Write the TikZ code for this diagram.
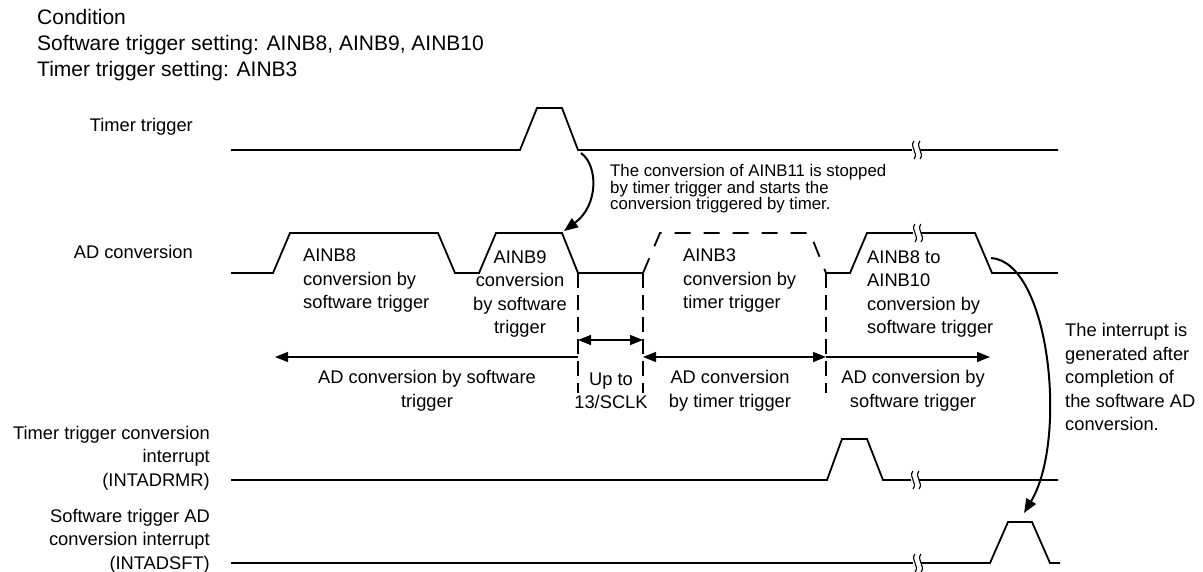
\documentclass[tikz,border=0pt]{standalone}
\usepackage{fontspec}
\setmainfont{Liberation Sans}
\usetikzlibrary{positioning, arrows.meta}

\begin{document}
\begin{tikzpicture}[
        x=1pt, y=-1pt,
        >={Triangle[length=13pt,width=10pt]},
        sig/.style={line width=1.8pt, line join=miter},
        guide/.style={line width=1.4pt, dash pattern=on 15pt off 7pt},
        dim/.style={line width=1.4pt},
        curvearrow/.style={line width=2pt, -{Triangle[length=14pt,width=11pt]}},
        lbl/.style={inner sep=0pt, font=\fontsize{18.3}{23.5}\selectfont},
        note/.style={inner sep=0pt, align=left, font=\fontsize{16.8}{16.6}\selectfont},
        brk/.pic={
          \fill[white] (-4,-9) rectangle (4,9);
          \draw[line width=1.1pt] (-2,-9) .. controls (-7,-3) and (3,3) .. (-2,9);
          \draw[line width=1.1pt] (4,-9) .. controls (-1,-3) and (9,3) .. (4,9);
        }
      ]
        \useasboundingbox (0,0) rectangle (1203,571);

        \node[inner sep=0pt, align=left, anchor=north west, font=\fontsize{21}{26}\selectfont] (cond) at (37,9)
          {Condition\\Software trigger setting: AINB8, AINB9, AINB10\\Timer trigger setting: AINB3};

        \node[lbl, anchor=east] (tmlbl) at (193,127) {Timer trigger};
        \node[lbl, anchor=east] (adlbl) at (193,252) {AD conversion};
        \node[lbl, align=right, anchor=east] (rmrlbl) at (210,458)
          {Timer trigger conversion\\interrupt\\(INTADRMR)};
        \node[lbl, align=right, anchor=east] (sftlbl) at (210,541)
          {Software trigger AD\\conversion interrupt\\(INTADSFT)};

        % timer trigger
        \draw[sig] (231,150) -- (520,150) -- (537,108) -- (562,108) -- (578,150) -- (1058,150);
        \pic at (916,150) {brk};

        % AD conversion
        \draw[sig] (231,273) -- (273,273) -- (290,233) -- (438,233) -- (455,273) -- (479,273)
          -- (496,233) -- (562,233) -- (578,273) -- (643,273);
        \draw[sig, dash pattern=on 16pt off 13pt] (643,273) -- (660,233) -- (810,233) -- (826,273);
        \draw[sig] (826,273) -- (850,273) -- (867,233) -- (975,233) -- (992,273) -- (1058,273);
        \pic at (917,233) {brk};

        % interrupts
        \draw[sig] (231,480) -- (827,480) -- (842,439) -- (867,439) -- (883,480) -- (1058,480);
        \pic at (915,480) {brk};
        \draw[sig] (231,563) -- (990,563) -- (1008,522) -- (1032,522) -- (1050,563) -- (1060,563);
        \pic at (917,563) {brk};

        \coordinate (t0) at (578,273);
        \coordinate (t1) at (643,273);
        \coordinate (t2) at (826,273);
        \draw[guide] (t0) -- ++(0,120);
        \draw[guide] (t1) -- ++(0,120);
        \draw[guide] (t2) -- ++(0,120);

        \coordinate (swend) at (275,357);
        \coordinate (swout) at (990,357);
        \draw[dim, <->] (t0 |- 0,340) -- (t1 |- 0,340);
        \draw[dim, ->] (t0 |- swend) -- (swend);
        \draw[dim, <->] (t1 |- swend) -- (t2 |- swend);
        \draw[dim, ->] (t2 |- swout) -- (swout);

        \node[lbl, align=left, anchor=west] (ain8) at (303,281) {AINB8\\conversion by\\software trigger};
        \node[lbl, align=center] (ain9) at (520,294) {AINB9\\conversion\\by software\\trigger};
        \node[lbl, align=left, anchor=west] (ain3) at (683,281) {AINB3\\conversion by\\timer trigger};
        \node[lbl, align=left, anchor=west] (ain10) at (867,294) {AINB8 to\\AINB10\\conversion by\\software trigger};

        \node[lbl, align=center] (swconv) at (427,391) {AD conversion by software\\trigger};
        \node[lbl, align=center] (wait) at (611,391) {Up to\\13/SCLK};
        \node[lbl, align=center] (tmconv) at (730,391) {AD conversion\\by timer trigger};
        \node[lbl, align=center] (swconv2) at (913,391) {AD conversion by\\software trigger};

        \node[note] (stopnote) at (610,189) [anchor=west]
          {The conversion of AINB11 is stopped\\by timer trigger and starts the\\conversion triggered by timer.};
        \node[lbl, align=left, anchor=west] (irqnote) at (1065,377)
          {The interrupt is\\generated after\\completion of\\the software AD\\conversion.};

        \coordinate (tmfall) at (581,153);
        \coordinate (ad9top) at (564,231);
        \coordinate (adfall) at (991,258);
        \coordinate (sfttop) at (1024,513);
        \draw[curvearrow] (tmfall) .. controls (598,165) and (599,205) .. (ad9top);
        \draw[curvearrow] (adfall) .. controls (1050,262) and (1068,440) .. (sfttop);
      \end{tikzpicture}
\end{document}
